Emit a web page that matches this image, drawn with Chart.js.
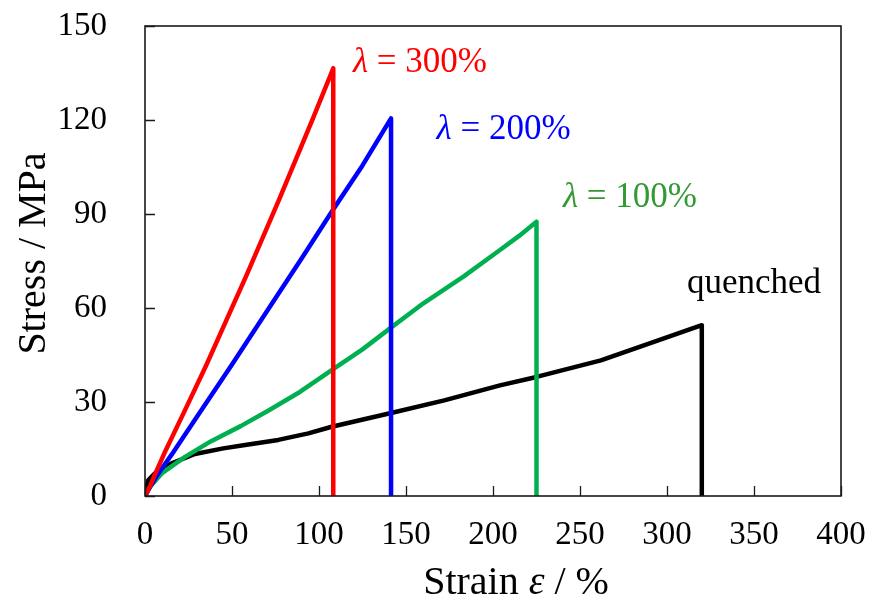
<!DOCTYPE html>
<html>
<head>
<meta charset="utf-8">
<script src="https://cdn.jsdelivr.net/npm/chart.js@4/dist/chart.umd.min.js"></script>
<style>
  html, body { margin: 0; padding: 0; background: #ffffff; }
  #wrap { width: 869px; height: 601px; }
</style>
</head>
<body>
<div id="wrap"><canvas id="c" width="869" height="601"></canvas></div>
<script>
// ---------- data ----------
const quenchedStrain = [0, 0.5, 1.9, 5.7, 15.3, 28.7, 45, 57.5, 76.6, 93.9, 107.3, 140.8, 172, 204, 225, 262, 290, 320, 320];
const quenchedStress = [0, 2.5, 5.1, 7.2, 10.4, 13.4, 15.2, 16.3, 17.9, 20, 22.1, 26.4, 30.5, 35.3, 38, 43.3, 48.7, 54.5, 0];

const lambda100Strain = [0, 3, 9.6, 23, 38, 55, 71, 89, 107.3, 125, 140.8, 160, 183, 204, 215, 225, 225];
const lambda100Stress = [0, 3, 7.2, 12.5, 17.5, 22.3, 27.3, 33.2, 40.2, 46.8, 53.5, 61.5, 70, 78.5, 83, 87.5, 0];

const lambda200Strain = [0, 3, 7.7, 15.3, 28.7, 50, 76, 90, 107.3, 125, 141.4, 141.4];
const lambda200Stress = [0, 3, 7.2, 13.2, 24.3, 42, 64, 75.8, 90.7, 105.5, 120.5, 0];

const lambda300Strain = [0, 3, 6, 12, 23, 35, 52, 58, 77, 96, 108.2, 108.2];
const lambda300Stress = [0, 3.3, 7.2, 14.7, 27.4, 41.5, 62.6, 70, 94.5, 119.8, 136.5, 0];

const xTicks = [0, 50, 100, 150, 200, 250, 300, 350, 400];
const yTicks = [0, 30, 60, 90, 120, 150];

const seriesNames = ['λ = 300%', 'λ = 200%', 'λ = 100%', 'quenched'];
const xTitle = ['Strain ', 'ε', ' / %'];
const yTitle = 'Stress / MPa';

// ---------- helpers ----------
function pts(xs, ys) { return xs.map((x, i) => ({ x: x, y: ys[i] })); }

const SERIF = '"Liberation Serif", "Times New Roman", serif';

function ds(label, xs, ys, color, order) {
  return {
    label: label,
    data: pts(xs, ys),
    borderColor: color,
    backgroundColor: color,
    borderWidth: 4.5,
    pointRadius: 0,
    pointHoverRadius: 0,
    tension: 0,
    showLine: true,
    fill: false,
    borderJoinStyle: 'round',
    borderCapStyle: 'butt',
    order: order
  };
}

// annotation labels, anchored in data units (left edge, baseline)
const labelDefs = [
  { parts: [['λ', true], [' = 300%', false]], color: '#FF0000', x: 119.5, y: 135.3 },
  { parts: [['λ', true], [' = 200%', false]], color: '#0000FF', x: 167.6, y: 113.9 },
  { parts: [['λ', true], [' = 100%', false]], color: '#339933', x: 240.2, y: 92.2 },
  { parts: [['quenched', false]], color: '#000000', x: 311.5, y: 64.8 }
];

function drawParts(ctx, parts, x, y, size) {
  let cx = x;
  parts.forEach(p => {
    ctx.font = (p[1] ? 'italic ' : '') + size + 'px ' + SERIF;
    ctx.fillText(p[0], cx, y);
    cx += ctx.measureText(p[0]).width;
  });
  return cx - x;
}
function partsWidth(ctx, parts, size) {
  let w = 0;
  parts.forEach(p => {
    ctx.font = (p[1] ? 'italic ' : '') + size + 'px ' + SERIF;
    w += ctx.measureText(p[0]).width;
  });
  return w;
}

const framePlugin = {
  id: 'frame',
  beforeDraw(chart) {
    const ctx = chart.ctx;
    ctx.save();
    ctx.fillStyle = '#ffffff';
    ctx.fillRect(0, 0, chart.width, chart.height);
    ctx.restore();
  },
  afterDraw(chart) {
    const ctx = chart.ctx;
    const a = chart.chartArea;
    const xs = chart.scales.x, ys = chart.scales.y;
    ctx.save();
    // box
    ctx.strokeStyle = '#1a1a1a';
    ctx.lineWidth = 1.6;
    ctx.strokeRect(a.left, a.top, a.right - a.left, a.bottom - a.top);
    // inward ticks
    ctx.lineWidth = 1.3;
    ctx.beginPath();
    xTicks.forEach(v => {
      const px = Math.round(xs.getPixelForValue(v)) + 0.5;
      ctx.moveTo(px, a.bottom);
      ctx.lineTo(px, a.bottom - 10);
    });
    yTicks.forEach(v => {
      const py = Math.round(ys.getPixelForValue(v)) + 0.5;
      ctx.moveTo(a.left, py);
      ctx.lineTo(a.left + 10, py);
    });
    ctx.stroke();

    // annotation labels
    ctx.textBaseline = 'alphabetic';
    ctx.textAlign = 'left';
    labelDefs.forEach(l => {
      ctx.fillStyle = l.color;
      drawParts(ctx, l.parts, xs.getPixelForValue(l.x), ys.getPixelForValue(l.y), 35);
    });

    // x title
    ctx.fillStyle = '#000000';
    const xt = [[xTitle[0], false], [xTitle[1], true], [xTitle[2], false]];
    const w = partsWidth(ctx, xt, 40);
    drawParts(ctx, xt, 516 - w / 2, 594, 40);

    // y title
    ctx.translate(45, 253.5);
    ctx.rotate(-Math.PI / 2);
    ctx.font = '40px ' + SERIF;
    ctx.textAlign = 'center';
    ctx.fillText(yTitle, 0, 0);
    ctx.restore();
  }
};

new Chart(document.getElementById('c'), {
  type: 'scatter',
  data: {
    datasets: [
      ds(seriesNames[0], lambda300Strain, lambda300Stress, '#FF0000', 0),
      ds(seriesNames[1], lambda200Strain, lambda200Stress, '#0000FF', 1),
      ds(seriesNames[2], lambda100Strain, lambda100Stress, '#00B050', 2),
      ds(seriesNames[3], quenchedStrain, quenchedStress, '#000000', 3)
    ]
  },
  options: {
    responsive: false,
    animation: false,
    devicePixelRatio: 1,
    layout: { padding: { top: 26, right: 28, left: 0, bottom: 0 } },
    plugins: {
      legend: { display: false },
      tooltip: { enabled: false },
      title: { display: false }
    },
    scales: {
      x: {
        type: 'linear',
        min: 0, max: 400,
        afterFit(s) { s.height = 105; s.paddingLeft = 0; s.paddingRight = 0; },
        afterBuildTicks(s) { s.ticks = xTicks.map(v => ({ value: v })); },
        grid: { display: false, drawTicks: false },
        border: { display: false },
        ticks: {
          autoSkip: false, maxRotation: 0, minRotation: 0,
          padding: 20,
          color: '#000000',
          font: { family: SERIF, size: 33 }
        }
      },
      y: {
        type: 'linear',
        min: 0, max: 150,
        afterFit(s) { s.width = 145; s.paddingTop = 0; s.paddingBottom = 0; },
        afterBuildTicks(s) { s.ticks = yTicks.map(v => ({ value: v })); },
        grid: { display: false, drawTicks: false },
        border: { display: false },
        ticks: {
          autoSkip: false,
          padding: 38,
          color: '#000000',
          font: { family: SERIF, size: 33 }
        }
      }
    }
  },
  plugins: [framePlugin]
});
</script>
</body>
</html>
